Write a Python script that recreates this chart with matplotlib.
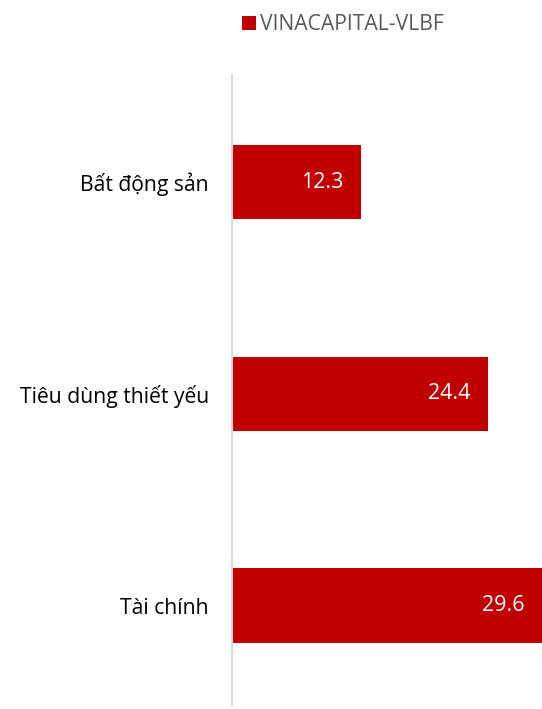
import matplotlib.pyplot as plt
from matplotlib.patches import Patch

categories = ["Bất động sản", "Tiêu dùng thiết yếu", "Tài chính"]
values = [12.3, 24.4, 29.6]
series_name = "VINACAPITAL-VLBF"

bar_color = "#C00000"
plt.rcParams['font.family'] = ['Open Sans', 'DejaVu Sans']

W, H = 542, 709
fig = plt.figure(figsize=(W / 100, H / 100), dpi=100)
ax = fig.add_axes([232 / W, 4 / H, 1 - 232 / W, (705 - 75) / H])

ypos = list(range(len(categories)))
bars = ax.barh(ypos, values, height=0.35, color=bar_color)
ax.set_ylim(2.47, -0.506)
ax.set_xlim(0, 29.55)

for y, v in zip(ypos, values):
    ax.annotate(f"{v:.1f}", (v, y), xytext=(-18, 0), textcoords='offset pixels',
                ha='right', va='center', color='white', fontsize=15.5, annotation_clip=False)

ax.set_yticks(ypos)
ax.set_yticklabels(categories, fontsize=15.2, color='black')
ax.tick_params(axis='y', length=0, pad=16.5)
ax.set_xticks([])
for s in ['top', 'right', 'bottom']:
    ax.spines[s].set_visible(False)
ax.spines['left'].set_color('#D9D9D9')
ax.spines['left'].set_linewidth(1.5)

handles = [Patch(facecolor=bar_color)]
fig.legend(handles, [series_name], loc='center left', bbox_to_anchor=(234 / W, 1 - 25 / H),
           frameon=False, fontsize=15.2, labelcolor='#595959',
           handlelength=0.65, handleheight=0.65, handletextpad=0.2, borderaxespad=0)

fig.savefig("out.png", dpi=100)
